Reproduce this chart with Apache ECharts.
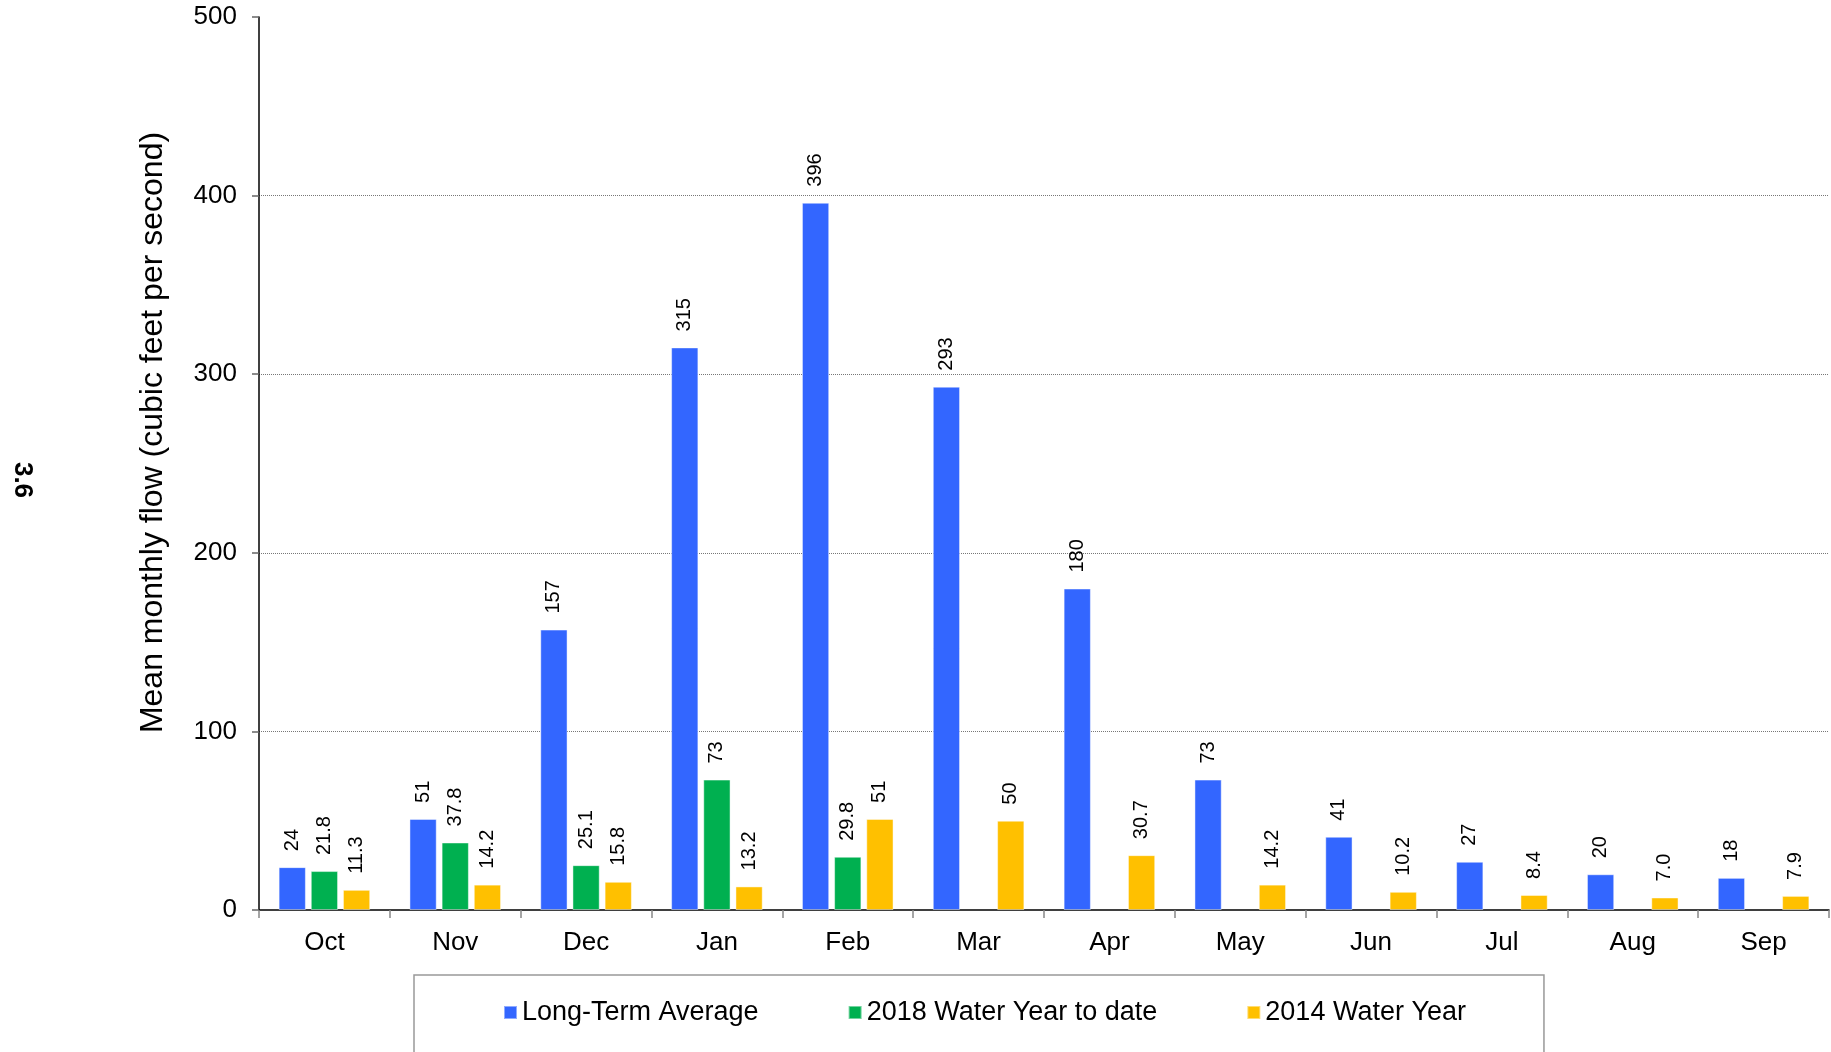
<!DOCTYPE html>
<html>
<head>
<meta charset="utf-8">
<script src="https://cdn.jsdelivr.net/npm/echarts@6/dist/echarts.min.js"></script>
<style>
html,body{margin:0;padding:0;background:#fff;}
#chart{width:1831px;height:1052px;}
</style>
</head>
<body>
<div id="chart"></div>
<script>
const categories = ['Oct','Nov','Dec','Jan','Feb','Mar','Apr','May','Jun','Jul','Aug','Sep'];
const longTermAverage = [24, 51, 157, 315, 396, 293, 180, 73, 41, 27, 20, 18];
const wy2018 = [21.8, 37.8, 25.1, 73, 29.8, null, null, null, null, null, null, null];
const wy2014 = [11.3, 14.2, 15.8, 13.2, 51, 50, 30.7, 14.2, 10.2, 8.4, 7.0, 7.9];
const seriesNames = ['Long-Term Average', '2018 Water Year to date', '2014 Water Year'];
const yTicks = [0, 100, 200, 300, 400, 500];

const FONT = '"Liberation Sans", Arial, sans-serif';
const colors = ['#3366FF', '#00B050', '#FFC000'];

function fmtInt(p) { return Math.round(p.value).toString(); }
function fmtMixed(p) { return p.value >= 50 ? Math.round(p.value).toString() : p.value.toFixed(1); }

function labelCfg(formatter) {
  return {
    show: true,
    position: 'top',
    rotate: 90,
    align: 'left',
    verticalAlign: 'middle',
    distance: 16,
    fontSize: 20,
    fontFamily: FONT,
    color: '#000',
    formatter: formatter
  };
}

const chart = echarts.init(document.getElementById('chart'), null, {renderer: 'canvas'});
chart.setOption({
  animation: false,
  backgroundColor: '#fff',
  grid: {left: 259, right: 2, top: 17, bottom: 142, containLabel: false},
  legend: {
    data: seriesNames,
    left: 414,
    top: 975,
    padding: [24, 78, 40, 89],
    itemGap: 89,
    itemWidth: 13,
    itemHeight: 13,
    icon: 'rect',
    borderColor: '#999',
    borderWidth: 1.5,
    textStyle: {fontSize: 27, fontFamily: FONT, color: '#000'}
  },
  xAxis: {
    type: 'category',
    data: categories,
    axisLine: {lineStyle: {color: '#000', width: 1.5}},
    axisTick: {show: true, length: 8, lineStyle: {color: '#888', width: 1.5}},
    axisLabel: {fontSize: 26, fontFamily: FONT, color: '#000', margin: 20}
  },
  yAxis: {
    type: 'value',
    min: yTicks[0],
    max: yTicks[yTicks.length - 1],
    interval: 100,
    name: 'Mean monthly flow (cubic feet per second)',
    nameLocation: 'middle',
    nameGap: 90,
    nameTextStyle: {fontSize: 32, fontFamily: FONT, color: '#000', padding: [0, 0, 0, 62]},
    axisLine: {show: true, lineStyle: {color: '#000', width: 1.5}},
    axisTick: {show: true, length: 7, lineStyle: {color: '#666', width: 1.5}},
    axisLabel: {fontSize: 26, fontFamily: FONT, color: '#000', margin: 22},
    splitLine: {show: true, showMinLine: false, showMaxLine: false, lineStyle: {color: '#777', type: 'dotted', width: 1}}
  },
  series: [
    {name: seriesNames[0], type: 'bar', data: longTermAverage, barGap: '18%', barCategoryGap: '30%',
     itemStyle: {color: colors[0], borderColor: 'rgba(255,255,255,0.45)', borderWidth: 1}, label: labelCfg(fmtInt)},
    {name: seriesNames[1], type: 'bar', data: wy2018,
     itemStyle: {color: colors[1], borderColor: 'rgba(255,255,255,0.45)', borderWidth: 1}, label: labelCfg(fmtMixed)},
    {name: seriesNames[2], type: 'bar', data: wy2014,
     itemStyle: {color: colors[2], borderColor: 'rgba(255,255,255,0.45)', borderWidth: 1}, label: labelCfg(fmtMixed)}
  ],
  graphic: [{
    type: 'text',
    x: 22, y: 480,
    rotation: -Math.PI / 2,
    style: {text: '3.6', fontSize: 26, fontWeight: 'bold', fontFamily: FONT, fill: '#000', align: 'center', verticalAlign: 'middle'}
  }]
});
</script>
</body>
</html>
